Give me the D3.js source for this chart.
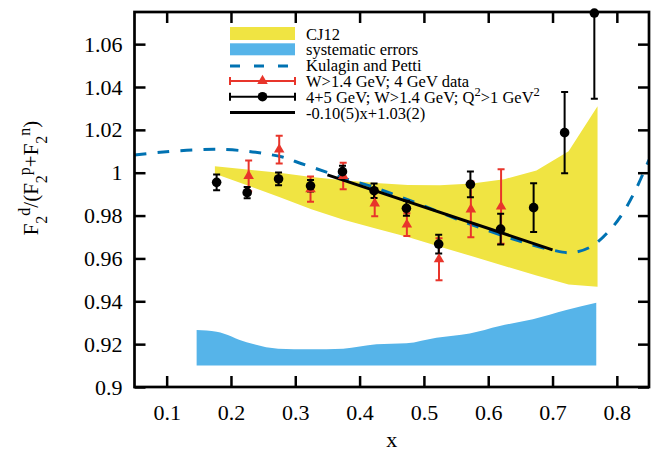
<!DOCTYPE html>
<html><head><meta charset="utf-8">
<script src="https://cdn.jsdelivr.net/npm/d3@7"></script>
<style>html,body{margin:0;padding:0;background:#fff;}svg{display:block;font-family:"Liberation Serif","DejaVu Serif",serif;}</style>
</head><body>
<svg id="chart" width="654" height="454"></svg>
<script>
// ---- data ----
const xTicks = [0.1,0.2,0.3,0.4,0.5,0.6,0.7,0.8];
const yTicks = [0.9,0.92,0.94,0.96,0.98,1,1.02,1.04,1.06];

// CJ12 band
const cjX     = [0.175,0.225,0.275,0.325,0.375,0.425,0.475,0.525,0.575,0.625,0.675,0.725,0.77];
const cjUpper = [1.003,1.0015,1.000,0.998,0.9965,0.9952,0.9943,0.9942,0.995,0.997,1.001,1.010,1.031];
const cjLower = [0.9995,0.9942,0.9887,0.983,0.978,0.974,0.970,0.9655,0.961,0.9565,0.952,0.9478,0.9468];

// systematic errors band (from baseline 0.91)
const sysX    = [0.1466,0.1777,0.2243,0.2734,0.3226,0.3744,0.4262,0.4728,0.5194,0.5712,0.6178,0.6695,0.7214,0.768];
const sysTop  = [0.9266,0.9258,0.9209,0.9179,0.9176,0.9179,0.9199,0.9204,0.923,0.925,0.9285,0.9316,0.9359,0.9393];
const sysBase = 0.91;

// Kulagin and Petti
const kpX = [0.05,0.09,0.14,0.18,0.22,0.25,0.28,0.31,0.35,0.38,0.42,0.45,0.5,0.55,0.6,0.65,0.7,0.73,0.76,0.79,0.81,0.83,0.85];
const kpY = [1.0083,1.0095,1.0106,1.0109,1.0102,1.009,1.0073,1.0042,1.0001,0.997,0.9935,0.9902,0.9845,0.9785,0.973,0.968,0.9639,0.9627,0.9655,0.9735,0.9815,0.9925,1.006];

// W>1.4 GeV; 4 GeV data (red)
const redX   = [0.2275,0.275,0.3237,0.3745,0.4235,0.4735,0.5235,0.573,0.62];
const redY   = [0.9985,1.0108,0.9923,0.9985,0.9857,0.9758,0.9596,0.9829,0.9842];
const redErr = [0.0072,0.0065,0.0059,0.0062,0.006,0.0053,0.0098,0.013,0.0174];

// 4+5 GeV; W>1.4 GeV; Q2>1 GeV2 (black)
const blkX   = [0.1777,0.2252,0.274,0.3237,0.3734,0.4225,0.4728,0.523,0.5723,0.6193,0.6706,0.7188,0.765];
const blkY   = [0.9955,0.9907,0.9971,0.9939,1.0005,0.9916,0.9834,0.9667,0.9946,0.9737,0.9837,1.0187,1.0745];
const blkErr = [0.0037,0.0026,0.003,0.0027,0.0028,0.0034,0.0035,0.0044,0.006,0.0072,0.0114,0.019,0.040];

// fit line
const fitSlope = -0.10, fitIntercept = 1.034;
const fitRange = [0.35, 0.70];

// ---- drawing ----
const svg = d3.select("#chart");
const x = d3.scaleLinear().domain([0.05,0.85]).range([134.5,649]);
const y = d3.scaleLinear().domain([0.9,1.075]).range([387,12]);
const colYellow="#f0e442", colSky="#56b4e9", colBlue="#0072b2", colRed="#e8352b";

svg.append("defs").append("clipPath").attr("id","clip")
  .append("rect").attr("x",x.range()[0]).attr("y",y.range()[1])
  .attr("width",x.range()[1]-x.range()[0]).attr("height",y.range()[0]-y.range()[1]);

const plot = svg.append("g").attr("clip-path","url(#clip)");

// CJ12 band
const cj = cjX.map((v,i)=>({x:v,lo:cjLower[i],hi:cjUpper[i]}));
plot.append("path").datum(cj).attr("fill",colYellow)
  .attr("d",d3.area().x(d=>x(d.x)).y0(d=>y(d.lo)).y1(d=>y(d.hi)));

// systematic band
const sys = sysX.map((v,i)=>({x:v,t:sysTop[i]}));
plot.append("path").datum(sys).attr("fill",colSky)
  .attr("d",d3.area().x(d=>x(d.x)).y0(y(sysBase)).y1(d=>y(d.t)).curve(d3.curveMonotoneX));

// KP curve
const kp = kpX.map((v,i)=>[v,kpY[i]]);
plot.append("path").datum(kp).attr("fill","none").attr("stroke",colBlue)
  .attr("stroke-width",3).attr("stroke-dasharray","12,11")
  .attr("d",d3.line().x(d=>x(d[0])).y(d=>y(d[1])).curve(d3.curveCatmullRom));

function errBars(g, xs, ys, es, color, lw){
  const data = xs.map((v,i)=>({x:v,y:ys[i],e:es[i]}));
  const gg = g.append("g").attr("stroke",color).attr("stroke-width",lw);
  gg.selectAll("line.v").data(data).join("line")
    .attr("x1",d=>x(d.x)).attr("x2",d=>x(d.x))
    .attr("y1",d=>y(d.y-d.e)).attr("y2",d=>y(d.y+d.e));
  gg.selectAll("line.t").data(data).join("line")
    .attr("x1",d=>x(d.x)-3.5).attr("x2",d=>x(d.x)+3.5)
    .attr("y1",d=>y(d.y+d.e)).attr("y2",d=>y(d.y+d.e));
  gg.selectAll("line.b").data(data).join("line")
    .attr("x1",d=>x(d.x)-3.5).attr("x2",d=>x(d.x)+3.5)
    .attr("y1",d=>y(d.y-d.e)).attr("y2",d=>y(d.y-d.e));
  return data;
}
const tri = d3.symbol().type(d3.symbolTriangle).size(48);

// red
const redData = errBars(plot, redX, redY, redErr, colRed, 2);
svg.append("g").selectAll("path").data(redData).join("path")
  .attr("d",tri).attr("fill",colRed)
  .attr("transform",d=>`translate(${x(d.x)},${y(d.y)})`);

// black
const blkData = errBars(plot, blkX, blkY, blkErr, "#000", 2);
svg.append("g").selectAll("circle").data(blkData).join("circle")
  .attr("cx",d=>x(d.x)).attr("cy",d=>y(d.y)).attr("r",4.8).attr("fill","#000");

// fit line
plot.append("line")
  .attr("x1",x(fitRange[0])).attr("y1",y(fitSlope*fitRange[0]+fitIntercept))
  .attr("x2",x(fitRange[1])).attr("y2",y(fitSlope*fitRange[1]+fitIntercept))
  .attr("stroke","#000").attr("stroke-width",3);

// axes / frame with inward ticks
const fmt = d => String(+d.toFixed(2));
const axG = svg.append("g");
const tl = 11;
axG.append("g").attr("transform",`translate(0,${y.range()[0]})`)
  .call(d3.axisBottom(x).tickValues(xTicks).tickSize(-tl).tickFormat(fmt));
axG.append("g").attr("transform",`translate(0,${y.range()[1]})`)
  .call(d3.axisTop(x).tickValues(xTicks).tickSize(-tl).tickFormat(""));
axG.append("g").attr("transform",`translate(${x.range()[0]},0)`)
  .call(d3.axisLeft(y).tickValues(yTicks).tickSize(-tl).tickFormat(fmt));
axG.append("g").attr("transform",`translate(${x.range()[1]},0)`)
  .call(d3.axisRight(y).tickValues(yTicks).tickSize(-tl).tickFormat(""));
axG.selectAll(".domain").remove();
axG.selectAll(".tick line").attr("stroke","#000").attr("stroke-width",2.5);
axG.selectAll(".tick text").attr("font-family","Liberation Serif").attr("font-size",22).attr("fill","#000");
axG.select("g").selectAll(".tick text").attr("dy",null).attr("y",33);
axG.selectAll("g:nth-child(3) .tick text").attr("x",-12);
svg.append("rect").attr("x",x.range()[0]).attr("y",y.range()[1])
  .attr("width",x.range()[1]-x.range()[0]).attr("height",y.range()[0]-y.range()[1])
  .attr("fill","none").attr("stroke","#000").attr("stroke-width",2.7);

// axis titles
svg.append("text").attr("x",(x.range()[0]+x.range()[1])/2).attr("y",447)
  .attr("text-anchor","middle").attr("font-size",22).text("x");
const yl = svg.append("text").attr("transform","translate(38,178) rotate(-90)")
  .attr("text-anchor","middle").attr("font-size",21);
function part(t, shift){ const s=yl.append("tspan").text(t); if(shift){s.attr("font-size",16).attr("baseline-shift",shift);} }
part("F"); part("2","sub"); part("d","super"); part("/(F"); part("2","sub"); part("p","super");
part("+F"); part("2","sub"); part("n","super"); part(")");

// legend
const lg = svg.append("g").attr("font-size",16.5);
const rows = [33.5,49.3,65.1,80.9,96.7,112.5];
const sx0=230, sx1=295, sxm=262.5, tx=306;
lg.append("rect").attr("x",sx0).attr("y",rows[0]-6.5).attr("width",sx1-sx0).attr("height",13).attr("fill",colYellow);
lg.append("rect").attr("x",sx0).attr("y",rows[1]-6).attr("width",sx1-sx0).attr("height",12).attr("fill",colSky);
lg.append("line").attr("x1",sx0).attr("x2",sx1).attr("y1",rows[2]+1).attr("y2",rows[2]+1)
  .attr("stroke",colBlue).attr("stroke-width",3).attr("stroke-dasharray","10,14");
function legErr(row,color){
  const g=lg.append("g").attr("stroke",color).attr("stroke-width",2);
  g.append("line").attr("x1",sx0).attr("x2",sx1).attr("y1",row).attr("y2",row);
  g.append("line").attr("x1",sx0).attr("x2",sx0).attr("y1",row-4).attr("y2",row+4);
  g.append("line").attr("x1",sx1).attr("x2",sx1).attr("y1",row-4).attr("y2",row+4);
}
legErr(rows[3],colRed);
lg.append("path").attr("d",tri).attr("fill",colRed).attr("transform",`translate(${sxm},${rows[3]})`);
legErr(rows[4],"#000");
lg.append("circle").attr("cx",sxm).attr("cy",rows[4]).attr("r",4.8).attr("fill","#000");
lg.append("line").attr("x1",sx0).attr("x2",sx1).attr("y1",rows[5]).attr("y2",rows[5])
  .attr("stroke","#000").attr("stroke-width",3);
const labels = ["CJ12","systematic errors","Kulagin and Petti","W>1.4 GeV; 4 GeV data",null,"-0.10(5)x+1.03(2)"];
labels.forEach((t,i)=>{ if(t) lg.append("text").attr("x",tx).attr("y",rows[i]+6).text(t); });
const t5 = lg.append("text").attr("x",tx).attr("y",rows[4]+6);
t5.append("tspan").text("4+5 GeV; W>1.4 GeV; Q");
t5.append("tspan").attr("font-size",12.5).attr("baseline-shift","super").text("2");
t5.append("tspan").text(">1 GeV");
t5.append("tspan").attr("font-size",12.5).attr("baseline-shift","super").text("2");
</script>
</body></html>
